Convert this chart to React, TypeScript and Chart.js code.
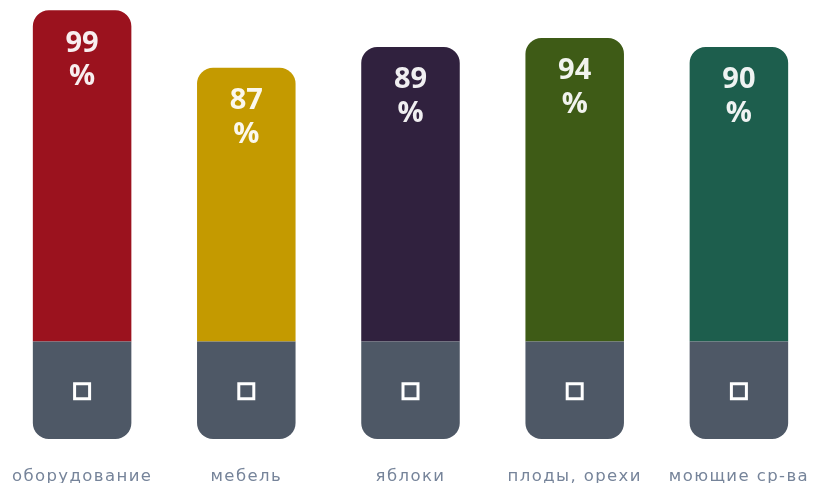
import React, { useEffect, useRef } from "react";
import { Chart, registerables } from "chart.js";

Chart.register(...registerables);

const categories = ["оборудование", "мебель", "яблоки", "плоды, орехи", "моющие ср-ва"];
const percentLabels = [99, 87, 89, 94, 90];
const barValues = [101.9, 84.2, 90.6, 93.4, 90.6];
const baseValues = [30, 30, 30, 30, 30];
const barColors = ["#9b121e", "#c49a00", "#30213e", "#3e5b16", "#1d5e4d"];
const baseColor = "#4e5866";

const overlayPlugin = {
  id: "overlay",
  beforeDraw(chart: any) {
    (chart.ctx as any).letterSpacing = "1.4px";
  },
  afterDatasetsDraw(chart: any) {
    const ctx = chart.ctx;
    ctx.save();
    (ctx as any).letterSpacing = "0px";
    const baseMeta = chart.getDatasetMeta(0);
    baseMeta.data.forEach((el: any) => {
      const cy = (el.y + el.base) / 2;
      ctx.strokeStyle = "#ffffff";
      ctx.lineWidth = 3;
      ctx.strokeRect(el.x - 7.5, cy - 7.5 + 1, 15, 15);
    });
    const meta = chart.getDatasetMeta(1);
    ctx.fillStyle = "rgba(255,255,255,0.93)";
    ctx.textAlign = "center";
    ctx.textBaseline = "middle";
    ctx.font = 'bold 29px "Open Sans"';
    meta.data.forEach((el: any, i: number) => {
      ctx.fillText(String(percentLabels[i]), el.x, el.y + 33);
      ctx.fillText("%", el.x, el.y + 66.5);
    });
    ctx.restore();
  },
  afterDraw(chart: any) {
    (chart.ctx as any).letterSpacing = "0px";
  },
};

export default function App() {
  const ref = useRef<HTMLCanvasElement>(null);
  useEffect(() => {
    if (!ref.current) return;
    const chart = new Chart(ref.current, {
      type: "bar",
      data: {
        labels: categories,
        datasets: [
          {
            data: baseValues,
            backgroundColor: baseColor,
            borderSkipped: false,
            borderRadius: { topLeft: 0, topRight: 0, bottomLeft: 16, bottomRight: 16 },
            barPercentage: 0.6,
            categoryPercentage: 1,
          },
          {
            data: barValues,
            backgroundColor: barColors,
            borderSkipped: false,
            borderRadius: { topLeft: 16, topRight: 16, bottomLeft: 0, bottomRight: 0 },
            barPercentage: 0.6,
            categoryPercentage: 1,
          },
        ],
      },
      options: {
        animation: false,
        responsive: true,
        maintainAspectRatio: false,
        layout: { padding: { left: 0, right: 2, top: 10, bottom: 0 } },
        plugins: { legend: { display: false }, tooltip: { enabled: false } },
        scales: {
          x: {
            stacked: true,
            grid: { display: false },
            border: { display: false },
            afterFit: (scale: any) => {
              scale.height = 44;
            },
            ticks: {
              padding: 20,
              color: "#76849a",
              font: { family: '"DejaVu Sans"', size: 16.5 },
              maxRotation: 0,
              autoSkip: false,
            },
          },
          y: {
            stacked: true,
            display: false,
            min: 0,
            max: 132,
          },
        },
      },
      plugins: [overlayPlugin],
    });
    return () => chart.destroy();
  }, []);
  return (
    <div style={{ position: "fixed", left: 0, top: 0, width: 823, height: 483 }}>
      <canvas ref={ref} />
    </div>
  );
}
